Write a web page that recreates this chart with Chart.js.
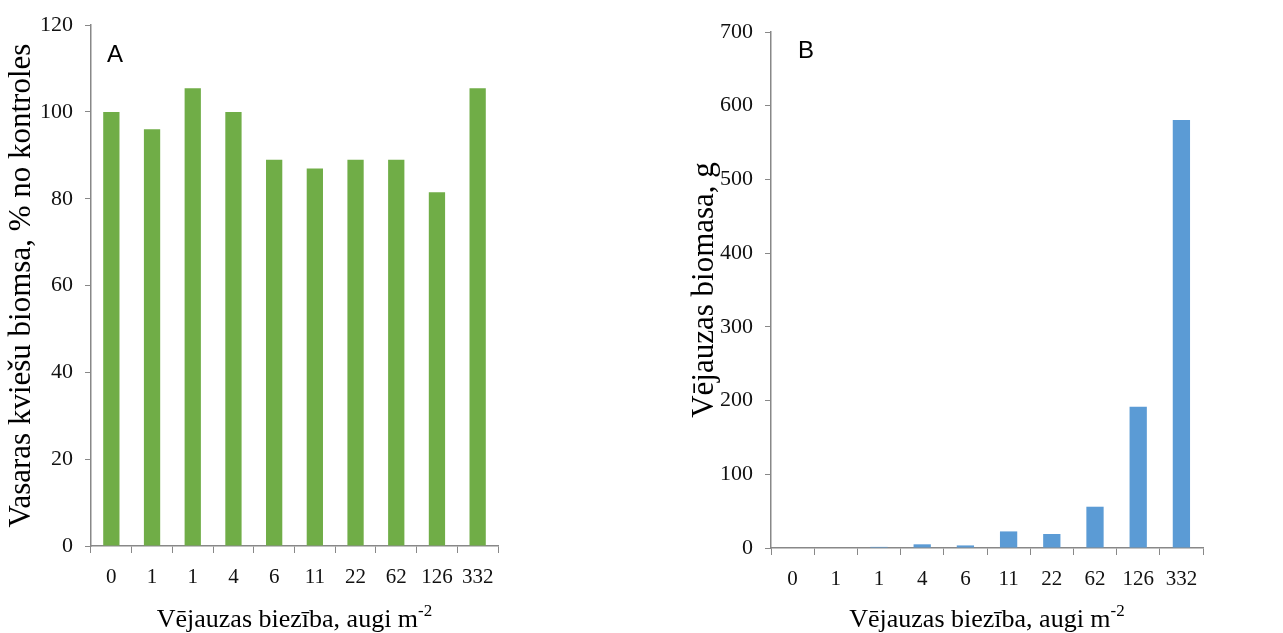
<!DOCTYPE html>
<html>
<head>
<meta charset="utf-8">
<script src="https://cdn.jsdelivr.net/npm/chart.js@4/dist/chart.umd.min.js"></script>
<style>
  body { margin: 0; background: #fff; }
  canvas { position: absolute; top: 0; }
  #chartA { left: 0; }
  #chartB { left: 640px; }
</style>
</head>
<body>
<canvas id="chartA" width="640" height="633"></canvas>
<canvas id="chartB" width="643" height="633"></canvas>
<script>
// Data
const densities = ['0', '1', '1', '4', '6', '11', '22', '62', '126', '332'];
const wheatBiomassPct = [100, 96, 105.5, 100, 89, 87, 89, 89, 81.5, 105.5];
const oatBiomassG = [0, 0, 1.5, 5, 3.5, 22.5, 19, 56, 191.5, 580.5];

const axisColor = '#888888';
const serif = '"Liberation Serif", "Times New Roman", serif';

// x axis title with superscript "-2" plus the panel letter
const panelText = {
    id: 'panelText',
    afterDraw(chart, args, opts) {
        const ctx = chart.ctx;
        const area = chart.chartArea;
        ctx.save();
        ctx.fillStyle = '#000';
        ctx.textBaseline = 'alphabetic';

        const mainFont = '26px ' + serif;
        const supFont = '17px ' + serif;
        ctx.font = mainFont;
        const w1 = ctx.measureText(opts.title).width;
        ctx.font = supFont;
        const w2 = ctx.measureText(opts.sup).width;
        const x0 = (area.left + area.right) / 2 - (w1 + w2) / 2;
        ctx.font = mainFont;
        ctx.fillText(opts.title, x0, opts.titleY);
        ctx.font = supFont;
        ctx.fillText(opts.sup, x0 + w1, opts.titleY - 11);

        ctx.font = '24px "Liberation Sans", Arial, sans-serif';
        ctx.fillText(opts.letter, opts.letterX, opts.letterY);
        ctx.restore();
    }
};

function makeChart(id, values, color, yMax, yStep, yTitle, yTitlePad, yWidth, padTop, padRight, xHeight, letter, letterX, letterY) {
    const ctx = document.getElementById(id).getContext('2d');
    return new Chart(ctx, {
        type: 'bar',
        data: {
            labels: densities,
            datasets: [{
                data: values,
                backgroundColor: color,
                borderWidth: 0,
                barPercentage: 0.4,
                categoryPercentage: 1.0
            }]
        },
        options: {
            responsive: false,
            animation: false,
            layout: {
                padding: { top: padTop, right: padRight, left: 0, bottom: 0 }
            },
            scales: {
                x: {
                    grid: {
                        display: true,
                        drawOnChartArea: false,
                        tickLength: 7,
                        color: axisColor,
                        offset: true
                    },
                    border: { display: true, color: axisColor, width: 1.5 },
                    ticks: {
                        color: '#111',
                        font: { family: serif, size: 21 },
                        padding: 12,
                        maxRotation: 0
                    },
                    afterFit(scale) { scale.height = xHeight; }
                },
                y: {
                    min: 0,
                    max: yMax,
                    grid: {
                        display: true,
                        drawOnChartArea: false,
                        tickLength: 6,
                        color: axisColor
                    },
                    border: { display: true, color: axisColor, width: 1.5 },
                    ticks: {
                        stepSize: yStep,
                        color: '#111',
                        font: { family: serif, size: 22 },
                        padding: 12
                    },
                    title: {
                        display: true,
                        text: yTitle,
                        color: '#000',
                        font: { family: serif, size: 31, lineHeight: 1 },
                        padding: { top: yTitlePad, bottom: 0 }
                    },
                    afterFit(scale) { scale.width = yWidth; }
                }
            },
            plugins: {
                legend: { display: false },
                tooltip: { enabled: false },
                panelText: {
                    title: 'Vējauzas biezība, augi m',
                    sup: '-2',
                    titleY: 627,
                    letter: letter,
                    letterX: letterX,
                    letterY: letterY
                }
            }
        },
        plugins: [panelText]
    });
}

makeChart('chartA', wheatBiomassPct, '#70AD47', 120, 20,
    'Vasaras kviešu biomsa, % no kontroles', 6, 91, 23, 142, 87, 'A', 107, 62);
makeChart('chartB', oatBiomassG, '#5B9BD5', 700, 100,
    'Vējauzas biomasa, g', 49, 131, 32, 80, 85, 'B', 158, 58);
</script>
</body>
</html>
